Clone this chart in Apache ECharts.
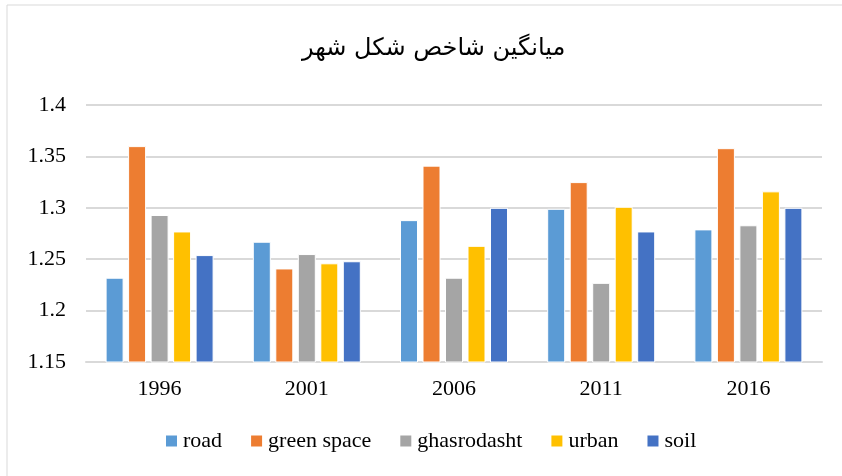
<!DOCTYPE html>
<html lang="fa">
<head>
    <meta charset="UTF-8">
    <title>میانگین شاخص شکل شهر</title>
    <script type="text/javascript" src="https://cdn.jsdelivr.net/npm/echarts@6/dist/echarts.min.js"></script>
    <style>
        html, body { margin: 0; padding: 0; background: #fff; }
        #charts { width: 842px; height: 476px; }
    </style>
</head>
<body>
<div id="charts"></div>
<script>
    // داده ها
    var years = ["1996", "2001", "2006", "2011", "2016"]
    var road = [1.232, 1.267, 1.288, 1.299, 1.279]
    var greenSpace = [1.360, 1.241, 1.341, 1.325, 1.358]
    var ghasrodasht = [1.293, 1.255, 1.232, 1.227, 1.283]
    var urban = [1.277, 1.246, 1.263, 1.301, 1.316]
    var soil = [1.254, 1.248, 1.300, 1.277, 1.300]
    var seriesNames = ["road", "green space", "ghasrodasht", "urban", "soil"]
    var colors = ["#5B9BD5", "#ED7D31", "#A5A5A5", "#FFC000", "#4472C4"]

    var values = [road, greenSpace, ghasrodasht, urban, soil]
    var series = []
    for (var i = 0; i < values.length; i++) {
        series.push({
            name: seriesNames[i],
            type: "bar",
            data: values[i],
            barWidth: 18,
            barGap: "25%",
            itemStyle: {color: colors[i], borderColor: "#fff", borderWidth: 1}
        })
    }

    var chart = echarts.init(document.getElementById("charts"), null, {renderer: "canvas"})
    chart.setOption({
        animation: false,
        color: colors,
        graphic: [{
            type: "rect",
            shape: {x: 7, y: 5, width: 860, height: 490},
            style: {fill: "none", stroke: "#d9d9d9", lineWidth: 1}
        }],
        title: {
            text: "میانگین شاخص شکل شهر",
            left: 297,
            top: 32,
            textStyle: {fontFamily: "DejaVu Sans", fontSize: 24, fontWeight: "normal", color: "#000"}
        },
        legend: {
            bottom: 19,
            left: 159,
            itemWidth: 13,
            itemHeight: 13,
            itemGap: 27,
            icon: "rect",
            textStyle: {fontFamily: "Liberation Serif", fontSize: 22, color: "#000"},
            data: seriesNames
        },
        grid: {left: 86, right: 20, top: 105, bottom: 114},
        xAxis: {
            type: "category",
            data: years,
            axisLine: {lineStyle: {color: "#d9d9d9", width: 2}},
            axisTick: {show: false},
            axisLabel: {fontFamily: "Liberation Serif", fontSize: 22, color: "#000", margin: 16}
        },
        yAxis: {
            type: "value",
            min: 1.15,
            max: 1.4,
            interval: 0.05,
            axisLine: {show: false},
            axisTick: {show: false},
            splitLine: {lineStyle: {color: "#d9d9d9", width: 2}},
            axisLabel: {
                fontFamily: "Liberation Serif", fontSize: 22, color: "#000", margin: 20,
                formatter: function (v) { return String(parseFloat(v.toFixed(2))) }
            }
        },
        series: series
    })
</script>
</body>
</html>
